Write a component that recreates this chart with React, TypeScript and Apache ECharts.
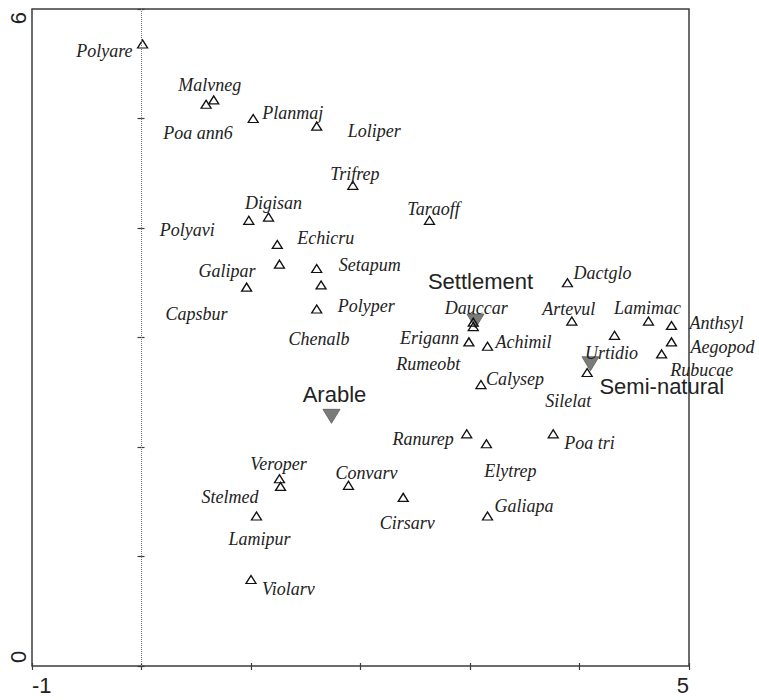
import React, { useEffect, useRef } from "react";
import * as echarts from "echarts";

// ---------- data ----------
const SPECIES: string[] = [
  "Polyare", "Poa ann6", "Malvneg", "Planmaj", "Loliper", "Trifrep", "Polyavi", "Digisan",
  "Taraoff", "Echicru", "Galipar", "Setapum", "Chenalb", "Capsbur", "Polyper", "Dactglo",
  "Dauccar", "Rumeobt", "Erigann", "Achimil", "Calysep", "Artevul", "Lamimac", "Anthsyl",
  "Urtidio", "Aegopod", "Rubucae", "Silelat", "Ranurep", "Elytrep", "Poa tri", "Cirsarv",
  "Galiapa", "Veroper", "Stelmed", "Convarv", "Lamipur", "Violarv",
];
const SPECIES_X: number[] = [
  0.01, 0.59, 0.66, 1.02, 1.6, 1.93, 0.98, 1.16,
  2.63, 1.24, 1.26, 1.6, 1.64, 0.96, 1.6, 3.89,
  3.03, 3.03, 2.99, 3.16, 3.1, 3.93, 4.63, 4.84,
  4.32, 4.84, 4.75, 4.07, 2.97, 3.15, 3.76, 2.39,
  3.16, 1.26, 1.27, 1.89, 1.05, 1.0,
];
const SPECIES_Y: number[] = [
  5.68, 5.13, 5.17, 5.0, 4.93, 4.39, 4.07, 4.1,
  4.07, 3.85, 3.67, 3.63, 3.48, 3.46, 3.26, 3.5,
  3.14, 3.1, 2.96, 2.92, 2.57, 3.15, 3.15, 3.11,
  3.02, 2.96, 2.85, 2.68, 2.12, 2.03, 2.12, 1.54,
  1.37, 1.71, 1.64, 1.65, 1.37, 0.79,
];
const GROUPS: string[] = ["Settlement", "Arable", "Semi-natural"];
const GROUP_X: number[] = [3.05, 1.735, 4.1];
const GROUP_Y: number[] = [3.15, 2.28, 2.76];

const X_MIN = -1;
const X_MAX = 5;
const Y_MIN = 0;
const Y_MAX = 6;
const X_TICK_LABELS: string[] = ["-1", "5"];
const Y_TICK_LABELS: string[] = ["0", "6"];

// ---------- label layout (align, dx, dy) ----------
const SPECIES_LABEL_PLACE: [string, number, number][] = [
  ["right", -10, 7], ["center", -8, 29], ["center", -4, -15], ["left", 9, -6],
  ["left", 31, 5], ["center", 2, -11], ["right", -34, 10], ["center", 5, -14],
  ["center", 4, -11], ["left", 20, -6], ["right", -24, 7], ["left", 22, -4],
  ["center", -2, 54], ["right", -19, 27], ["left", 21, -3], ["left", 6, -10],
  ["center", 3, -14], ["right", -13, 37], ["right", -10, -4], ["left", 8, -4],
  ["left", 5, -6], ["center", -3, -12], ["center", -1, -13], ["left", 18, -2],
  ["center", -3, 18], ["left", 19, 5], ["center", 40, 16], ["center", -19, 28],
  ["right", -13, 5], ["center", 24, 27], ["left", 11, 9], ["center", 4, 26],
  ["left", 7, -10], ["center", -1, -15], ["right", -22, 11], ["left", -13, -12],
  ["center", 3, 23], ["left", 11, 10],
];
const GROUP_LABEL_PLACE: [string, number, number][] = [
  ["center", 5, -40],
  ["center", 3, -22],
  ["left", 9, 23],
];

const SERIF = '"Liberation Serif", "Times New Roman", serif';
const SANS = '"Liberation Sans", Arial, sans-serif';
const AXIS_COLOR = "#3c3c3c";

function buildOption(): any {
  const speciesData = SPECIES.map((name, i) => ({
    name,
    value: [SPECIES_X[i], SPECIES_Y[i]],
    label: {
      align: SPECIES_LABEL_PLACE[i][0],
      offset: [SPECIES_LABEL_PLACE[i][1], SPECIES_LABEL_PLACE[i][2]],
    },
  }));
  const groupData = GROUPS.map((name, i) => ({
    name,
    value: [GROUP_X[i], GROUP_Y[i]],
    label: {
      align: GROUP_LABEL_PLACE[i][0],
      offset: [GROUP_LABEL_PLACE[i][1], GROUP_LABEL_PLACE[i][2]],
    },
  }));

  const baseAxis = {
    type: "value",
    interval: 1,
    splitLine: { show: false },
    axisLine: { show: false },
  };

  return {
    animation: false,
    backgroundColor: "#ffffff",
    grid: {
      left: 32,
      top: 9,
      width: 657,
      height: 657,
      show: true,
      borderColor: AXIS_COLOR,
      borderWidth: 1.5,
      backgroundColor: "transparent",
      containLabel: false,
      outerBoundsMode: "none",
    },
    xAxis: [
      {
        ...baseAxis,
        min: X_MIN,
        max: X_MAX,
        position: "bottom",
        axisTick: { show: true, length: 4, lineStyle: { color: AXIS_COLOR, width: 1.2 } },
        axisLabel: {
          show: true,
          margin: 8,
          fontFamily: SANS,
          fontSize: 22,
          color: "#222",
          formatter: (v: number) => (X_TICK_LABELS.includes(String(v)) ? String(v) : ""),
          alignMinLabel: "left",
          alignMaxLabel: "right",
        },
      },
      {
        ...baseAxis,
        min: X_MIN,
        max: X_MAX,
        position: "bottom",
        axisTick: { show: true, inside: true, length: 3, lineStyle: { color: AXIS_COLOR, width: 1.2 } },
        axisLabel: { show: false },
      },
    ],
    yAxis: [
      {
        ...baseAxis,
        min: Y_MIN,
        max: Y_MAX,
        position: "left",
        axisTick: { show: true, length: 4, lineStyle: { color: AXIS_COLOR, width: 1.2 } },
        axisLabel: {
          show: true,
          rotate: 90,
          margin: 3,
          padding: [0, 3, 0, 3],
          fontFamily: SANS,
          fontSize: 22,
          color: "#222",
          formatter: (v: number) => (Y_TICK_LABELS.includes(String(v)) ? String(v) : ""),
          alignMinLabel: "left",
          alignMaxLabel: "right",
        },
      },
      {
        ...baseAxis,
        min: Y_MIN,
        max: Y_MAX,
        position: "left",
        axisTick: { show: true, inside: true, length: 3, lineStyle: { color: AXIS_COLOR, width: 1.2 } },
        axisLabel: { show: false },
      },
    ],
    series: [
      {
        type: "scatter",
        name: "groups",
        xAxisIndex: 0,
        yAxisIndex: 0,
        silent: true,
        symbol: "triangle",
        symbolRotate: 180,
        symbolSize: [17, 14],
        itemStyle: { color: "#7b7b7b", borderColor: "#5a5a5a", borderWidth: 0.8, opacity: 1 },
        label: {
          show: true,
          position: "inside",
          formatter: "{b}",
          fontFamily: SANS,
          fontSize: 22,
          color: "#222",
          verticalAlign: "middle",
        },
        emphasis: { disabled: true },
        data: groupData,
        z: 2,
      },
      {
        type: "scatter",
        name: "species",
        xAxisIndex: 0,
        yAxisIndex: 0,
        silent: true,
        symbol: "triangle",
        symbolSize: [10, 8],
        itemStyle: { color: "rgba(0,0,0,0)", borderColor: "#111", borderWidth: 1.3, opacity: 1 },
        label: {
          show: true,
          position: "inside",
          formatter: "{b}",
          fontFamily: SERIF,
          fontStyle: "italic",
          fontSize: 18,
          color: "#222",
          verticalAlign: "middle",
        },
        emphasis: { disabled: true },
        data: speciesData,
        markLine: {
          silent: true,
          symbol: ["none", "none"],
          label: { show: false },
          lineStyle: { type: "dotted", color: "#777", width: 1 },
          data: [{ xAxis: 0 }],
        },
        z: 3,
      },
    ],
  };
}

export default function App() {
  const ref = useRef<HTMLDivElement>(null);
  useEffect(() => {
    if (!ref.current) return;
    const chart = echarts.init(ref.current, null, { renderer: "svg" });
    chart.setOption(buildOption());
    return () => chart.dispose();
  }, []);
  return (
    <div
      ref={ref}
      style={{ position: "fixed", left: 0, top: 0, width: 759, height: 700, background: "#fff" }}
    />
  );
}
